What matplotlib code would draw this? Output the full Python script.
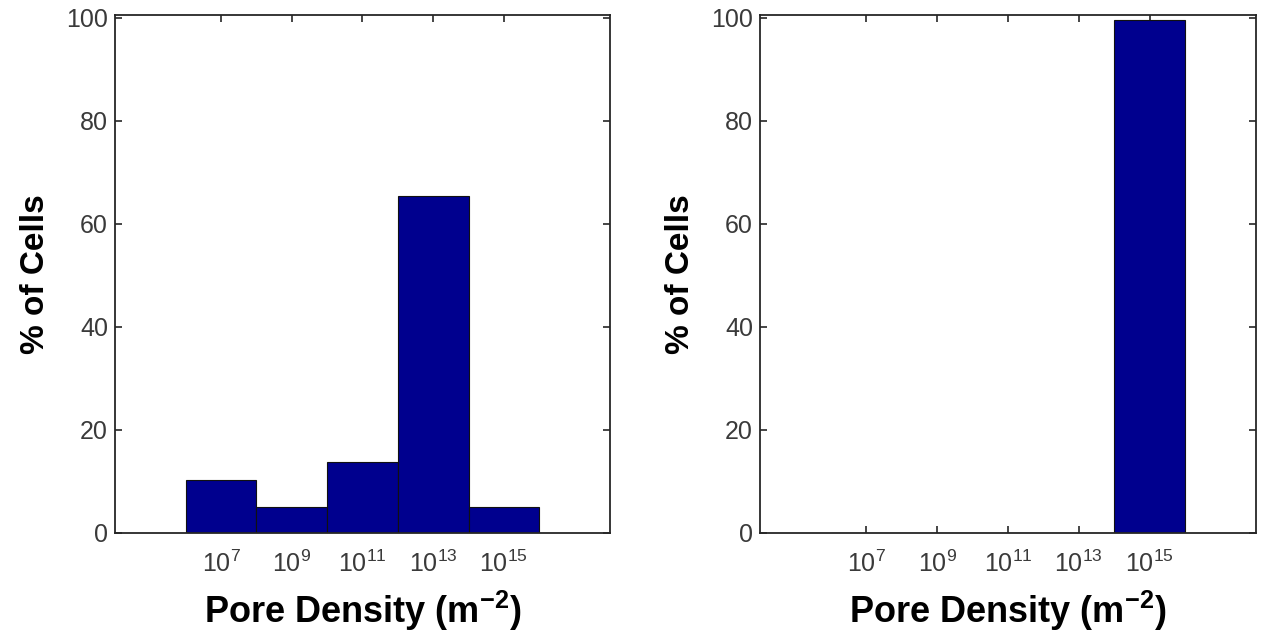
import matplotlib
matplotlib.use("Agg")
from matplotlib import pyplot as plt

plt.rcParams["font.family"] = ["Liberation Sans", "DejaVu Sans"]
plt.rcParams["mathtext.default"] = "regular"

# pore density bins (log10 of m^-2) and % of cells in each bin
exponents = [7, 9, 11, 13, 15]
tick_labels = [f"$10^{{{e}}}$" for e in exponents]
left_pct = [10.3, 5.1, 13.8, 65.5, 5.1]
right_pct = [0, 0, 0, 0, 99.6]

bar_color = "#00008E"
axis_color = "#262626"
text_color = "#3a3a3a"

fig = plt.figure(figsize=(12.62, 6.36), dpi=100)
ax_left = fig.add_axes([0.0911, 0.162, 0.3922, 0.814])
ax_right = fig.add_axes([0.6022, 0.162, 0.3930, 0.814])

for ax, pct in ((ax_left, left_pct), (ax_right, right_pct)):
    ax.bar(exponents, pct, width=2.0, color=bar_color, edgecolor="#111111", linewidth=0.8)
    ax.set_xlim(4, 18)
    ax.set_ylim(0, 100.5)
    ax.set_xticks(exponents)
    ax.set_xticklabels(tick_labels)
    ax.set_yticks([0, 20, 40, 60, 80, 100])
    ax.set_axisbelow(True)
    ax.tick_params(direction="in", length=5, width=1.2, color=axis_color,
                   top=True, right=True, labelsize=18, labelcolor=text_color, pad=5)
    ax.tick_params(axis="x", pad=13)
    for s in ax.spines.values():
        s.set_color(axis_color)
        s.set_linewidth(1.3)
    ax.set_xlabel("Pore Density (m$^{-2}$)", fontsize=26, fontweight="bold", labelpad=8)
    ax.set_ylabel("% of Cells", fontsize=24, fontweight="bold", labelpad=11)

fig.savefig("out.png", dpi=100)
